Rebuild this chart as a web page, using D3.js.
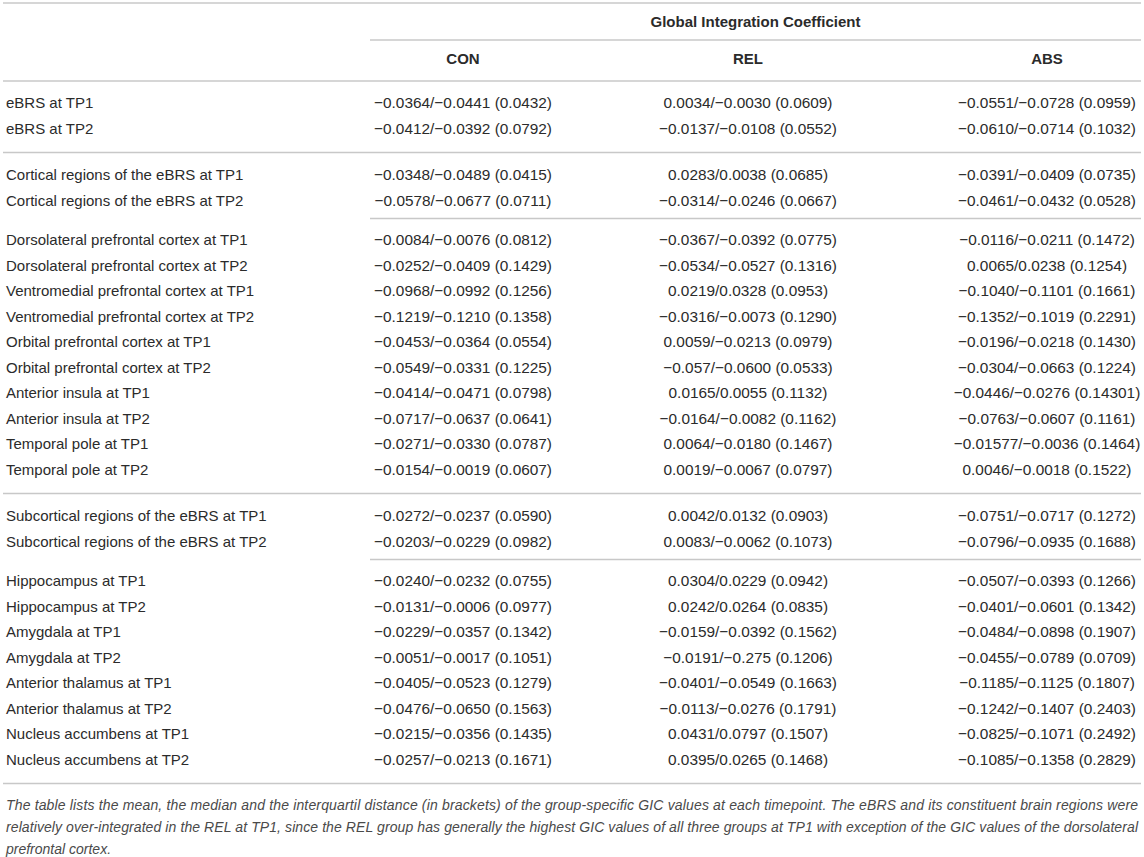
<!DOCTYPE html>
<html>
<head>
<meta charset="utf-8">
<script src="https://cdn.jsdelivr.net/npm/d3@7"></script>
<style>
  body { margin: 0; background: #fff; }
  svg { display: block; }
</style>
</head>
<body>
<div id="gic-table"></div>
<script>
const width = 1144;
const height = 857;

// --- data ---
const groups = ["CON", "REL", "ABS"];

const rowLabels = [
    "eBRS at TP1",
    "eBRS at TP2",
    "Cortical regions of the eBRS at TP1",
    "Cortical regions of the eBRS at TP2",
    "Dorsolateral prefrontal cortex at TP1",
    "Dorsolateral prefrontal cortex at TP2",
    "Ventromedial prefrontal cortex at TP1",
    "Ventromedial prefrontal cortex at TP2",
    "Orbital prefrontal cortex at TP1",
    "Orbital prefrontal cortex at TP2",
    "Anterior insula at TP1",
    "Anterior insula at TP2",
    "Temporal pole at TP1",
    "Temporal pole at TP2",
    "Subcortical regions of the eBRS at TP1",
    "Subcortical regions of the eBRS at TP2",
    "Hippocampus at TP1",
    "Hippocampus at TP2",
    "Amygdala at TP1",
    "Amygdala at TP2",
    "Anterior thalamus at TP1",
    "Anterior thalamus at TP2",
    "Nucleus accumbens at TP1",
    "Nucleus accumbens at TP2"
];

// mean/median (interquartile distance), as printed
const conValues = [
    "−0.0364/−0.0441 (0.0432)",
    "−0.0412/−0.0392 (0.0792)",
    "−0.0348/−0.0489 (0.0415)",
    "−0.0578/−0.0677 (0.0711)",
    "−0.0084/−0.0076 (0.0812)",
    "−0.0252/−0.0409 (0.1429)",
    "−0.0968/−0.0992 (0.1256)",
    "−0.1219/−0.1210 (0.1358)",
    "−0.0453/−0.0364 (0.0554)",
    "−0.0549/−0.0331 (0.1225)",
    "−0.0414/−0.0471 (0.0798)",
    "−0.0717/−0.0637 (0.0641)",
    "−0.0271/−0.0330 (0.0787)",
    "−0.0154/−0.0019 (0.0607)",
    "−0.0272/−0.0237 (0.0590)",
    "−0.0203/−0.0229 (0.0982)",
    "−0.0240/−0.0232 (0.0755)",
    "−0.0131/−0.0006 (0.0977)",
    "−0.0229/−0.0357 (0.1342)",
    "−0.0051/−0.0017 (0.1051)",
    "−0.0405/−0.0523 (0.1279)",
    "−0.0476/−0.0650 (0.1563)",
    "−0.0215/−0.0356 (0.1435)",
    "−0.0257/−0.0213 (0.1671)"
];

const relValues = [
    "0.0034/−0.0030 (0.0609)",
    "−0.0137/−0.0108 (0.0552)",
    "0.0283/0.0038 (0.0685)",
    "−0.0314/−0.0246 (0.0667)",
    "−0.0367/−0.0392 (0.0775)",
    "−0.0534/−0.0527 (0.1316)",
    "0.0219/0.0328 (0.0953)",
    "−0.0316/−0.0073 (0.1290)",
    "0.0059/−0.0213 (0.0979)",
    "−0.057/−0.0600 (0.0533)",
    "0.0165/0.0055 (0.1132)",
    "−0.0164/−0.0082 (0.1162)",
    "0.0064/−0.0180 (0.1467)",
    "0.0019/−0.0067 (0.0797)",
    "0.0042/0.0132 (0.0903)",
    "0.0083/−0.0062 (0.1073)",
    "0.0304/0.0229 (0.0942)",
    "0.0242/0.0264 (0.0835)",
    "−0.0159/−0.0392 (0.1562)",
    "−0.0191/−0.275 (0.1206)",
    "−0.0401/−0.0549 (0.1663)",
    "−0.0113/−0.0276 (0.1791)",
    "0.0431/0.0797 (0.1507)",
    "0.0395/0.0265 (0.1468)"
];

const absValues = [
    "−0.0551/−0.0728 (0.0959)",
    "−0.0610/−0.0714 (0.1032)",
    "−0.0391/−0.0409 (0.0735)",
    "−0.0461/−0.0432 (0.0528)",
    "−0.0116/−0.0211 (0.1472)",
    "0.0065/0.0238 (0.1254)",
    "−0.1040/−0.1101 (0.1661)",
    "−0.1352/−0.1019 (0.2291)",
    "−0.0196/−0.0218 (0.1430)",
    "−0.0304/−0.0663 (0.1224)",
    "−0.0446/−0.0276 (0.14301)",
    "−0.0763/−0.0607 (0.1161)",
    "−0.01577/−0.0036 (0.1464)",
    "0.0046/−0.0018 (0.1522)",
    "−0.0751/−0.0717 (0.1272)",
    "−0.0796/−0.0935 (0.1688)",
    "−0.0507/−0.0393 (0.1266)",
    "−0.0401/−0.0601 (0.1342)",
    "−0.0484/−0.0898 (0.1907)",
    "−0.0455/−0.0789 (0.0709)",
    "−0.1185/−0.1125 (0.1807)",
    "−0.1242/−0.1407 (0.2403)",
    "−0.0825/−0.1071 (0.2492)",
    "−0.1085/−0.1358 (0.2829)"
];

// row blocks and the rule drawn after each block
const blockSizes = [2, 2, 10, 2, 8];
const blockRules = ["full", "partial", "full", "partial", "full"];

const headerTitle = "Global Integration Coefficient";

const captionLines = [
    "The table lists the mean, the median and the interquartil distance (in brackets) of the group-specific GIC values at each timepoint. The eBRS and its constituent brain regions were",
    "relatively over-integrated in the REL at TP1, since the REL group has generally the highest GIC values of all three groups at TP1 with exception of the GIC values of the dorsolateral",
    "prefrontal cortex."
];

// --- layout ---
const font = "'Liberation Sans', Arial, Helvetica, sans-serif";
const textColor = "#2b2b2b";
const ruleColor = "#c8c8c8";
const left = 3, right = 1141;
const labelX = 6;
const dataLeft = 370;
const firstRowY = 103;
const rowStep = 25.5;
// distance from last row to rule, and from rule to next row
const ruleAfter = { full: 24, partial: 18 };
const ruleBefore = { full: 22.5, partial: 21.5 };

const column = d3.scaleOrdinal()
    .domain(groups)
    .range([463, 748, 1047]);

const values = { CON: conValues, REL: relValues, ABS: absValues };

// work out row centres and rule positions from the blocks
const rowY = [];
const rules = [];
let y = firstRowY;
blockSizes.forEach((n, b) => {
    for (let i = 0; i < n; i++) {
        rowY.push(y);
        if (i < n - 1) y += rowStep;
    }
    const kind = blockRules[b];
    y += ruleAfter[kind];
    rules.push({ y: y, x1: kind === "full" ? left : dataLeft });
    y += ruleBefore[kind];
});

const svg = d3.select("#gic-table")
    .append("svg")
    .attr("width", width)
    .attr("height", height)
    .style("font-family", font);

// --- header rules ---
const headerRules = [
    { y: 3, x1: left },
    { y: 40, x1: dataLeft },
    { y: 81, x1: left }
];

svg.selectAll(".rule")
    .data(headerRules.concat(rules))
    .enter()
    .append("line")
    .attr("class", "rule")
    .attr("x1", d => d.x1)
    .attr("x2", right)
    .attr("y1", d => d.y)
    .attr("y2", d => d.y)
    .style("stroke", ruleColor)
    .style("stroke-width", 1.6);

// --- header text ---
svg.append("text")
    .attr("x", (dataLeft + right) / 2)
    .attr("y", 22)
    .attr("dy", ".35em")
    .attr("text-anchor", "middle")
    .style("font-size", "15px")
    .style("font-weight", "bold")
    .style("fill", textColor)
    .text(headerTitle);

svg.selectAll(".group-head")
    .data(groups)
    .enter()
    .append("text")
    .attr("class", "group-head")
    .attr("x", d => column(d))
    .attr("y", 59)
    .attr("dy", ".35em")
    .attr("text-anchor", "middle")
    .style("font-size", "15px")
    .style("font-weight", "bold")
    .style("fill", textColor)
    .text(d => d);

// --- body ---
const row = svg.selectAll(".row")
    .data(rowLabels)
    .enter()
    .append("g")
    .attr("class", "row")
    .attr("transform", (d, i) => `translate(0,${rowY[i]})`);

row.append("text")
    .attr("x", labelX)
    .attr("dy", ".35em")
    .style("font-size", "15px")
    .style("fill", textColor)
    .text(d => d);

groups.forEach(g => {
    row.append("text")
        .attr("x", column(g))
        .attr("dy", ".35em")
        .attr("text-anchor", "middle")
        .style("font-size", "15.4px")
        .style("fill", textColor)
        .text((d, i) => values[g][i]);
});

// --- caption (justified except the last line) ---
const captionTop = rules[rules.length - 1].y + 22;
const captionStep = 22;

svg.selectAll(".caption")
    .data(captionLines)
    .enter()
    .append("text")
    .attr("class", "caption")
    .attr("x", labelX)
    .attr("y", (d, i) => captionTop + i * captionStep)
    .attr("dy", ".35em")
    .attr("textLength", (d, i) => i < captionLines.length - 1 ? right - 3 - labelX : null)
    .attr("lengthAdjust", "spacing")
    .style("font-size", "14px")
    .style("font-style", "italic")
    .style("fill", "#4a4a4a")
    .text(d => d);
</script>
</body>
</html>
